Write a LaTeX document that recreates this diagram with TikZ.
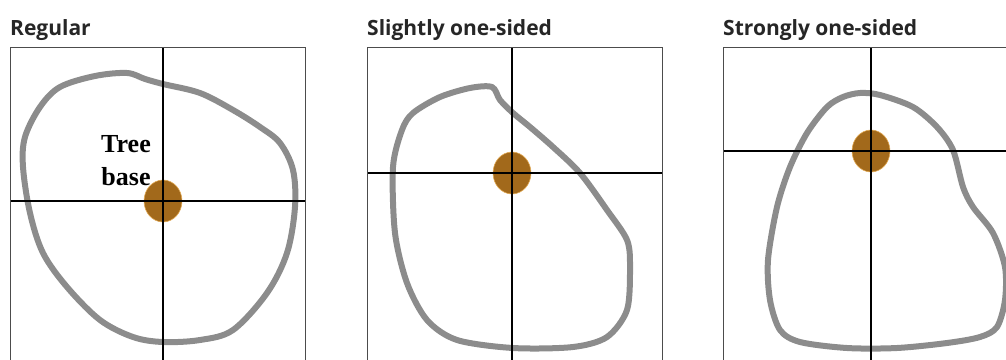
\documentclass[tikz,border=0pt]{standalone}
\usepackage{fontspec}
\setsansfont{Open Sans}
\setmainfont{Liberation Serif}
\usepackage{xcolor}
\usetikzlibrary{positioning,shapes.geometric}

\definecolor{crowngray}{HTML}{8C8C8C}
\definecolor{trunkbrown}{HTML}{A2691B}
\definecolor{trunkrim}{HTML}{E2AA55}

\begin{document}
\begin{tikzpicture}[
  x=1pt, y=-1pt,
  title/.style={font=\sffamily\bfseries\fontsize{21}{24}\selectfont,
    text=black!85, anchor=base west, inner sep=0pt},
  panel/.style={draw=black!70, line width=0.9pt},
  axis/.style={draw=black, line width=1.1pt},
  crown/.style={draw=crowngray, line width=6pt, line join=round},
  trunk/.style={ellipse, fill=trunkbrown, draw=trunkrim, line width=0.6pt,
    minimum width=38pt, minimum height=42pt, inner sep=0pt}
]
  \useasboundingbox (0,0) rectangle (1006,359);
  \clip (0,0) rectangle (1006,359);

  % panel 1: regular
  \node[title] (t1) at (10,35) {Regular};
  \draw[crown] plot[smooth cycle, tension=0.55] coordinates {
    (127,73) (145,79) (163,84) (200,93) (233,110) (260,127) (280,143)
    (293,170) (295,207) (287,253) (267,293) (233,330) (200,340)
    (163,342) (133,337) (100,320) (67,287) (43,253) (30,213)
    (23,167) (25,137) (40,107) (60,87) (95,76)};
  \node[trunk] (b1) at (163,201) {};
  \draw[axis] (163,47) -- (163,370);
  \draw[axis] (10,201) -- (305,201);
  \draw[panel] (10,370) -- (10,47) -- (305,47) -- (305,370);
  \node[font=\bfseries\fontsize{26}{33}\selectfont, align=center, inner sep=0pt,
    anchor=base] (lbl) at (126,185) {Tree\\base};

  % panel 2: slightly one-sided
  \node[title] (t2) at (367,35) {Slightly one-sided};
  \draw[crown] plot[smooth cycle, tension=0.5] coordinates {
    (492,87) (500,100) (513,113) (530,127) (553,147) (580,173)
    (607,210) (627,240) (630,267) (627,310) (607,337) (573,347)
    (513,348) (457,340) (427,320) (407,283) (395,233) (393,167)
    (402,130) (413,113) (440,97) (470,88)};
  \node[trunk] (b2) at (512,173) {};
  \draw[axis] (512,47) -- (512,370);
  \draw[axis] (367,173) -- (662,173);
  \draw[panel] (367,370) -- (367,47) -- (662,47) -- (662,370);

  % panel 3: strongly one-sided
  \node[title] (t3) at (723,35) {Strongly one-sided};
  \draw[crown] plot[smooth cycle, tension=0.5] coordinates {
    (860,93) (880,95) (913,107) (937,127) (953,150) (963,187)
    (973,207) (993,233) (1005,267) (1005,300) (997,327) (980,337)
    (947,343) (897,348) (847,348) (800,342) (780,330) (770,300)
    (768,260) (777,207) (790,167) (807,133) (827,107) (843,97)};
  \node[trunk] (b3) at (871,151) {};
  \draw[axis] (871,47) -- (871,370);
  \draw[axis] (723,151) -- (1018,151);
  \draw[panel] (723,370) -- (723,47) -- (1018,47) -- (1018,370);
\end{tikzpicture}
\end{document}
